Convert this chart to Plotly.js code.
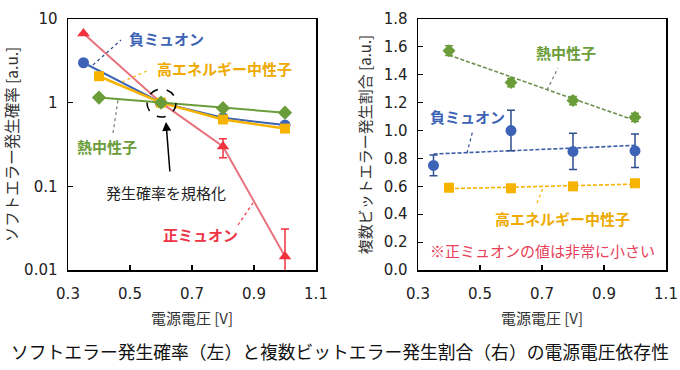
<!DOCTYPE html>
<html>
<head>
<meta charset="utf-8">
<script src="https://cdn.plot.ly/plotly-3.0.1.min.js"></script>
<style>html,body{margin:0;padding:0;background:#fff;}#chart{width:680px;height:370px;}</style>
</head>
<body>
<div id="chart"></div>
<script>
// ---- data ----
const voltsMuon = [0.35, 0.6, 0.8, 1.0];
const voltsNeutron = [0.4, 0.6, 0.8, 1.0];
const xTicks = [0.3, 0.5, 0.7, 0.9, 1.1];
const yTicksLog = [0.01, 0.1, 1, 10];
const yTickTextLog = ['0.01', '0.1', '1', '10'];
// left: soft error rate (normalised at 0.6 V)
const serNegMuon = [3.0, 1.0, 0.66, 0.54];
const serPosMuon = [6.7, 1.0, 0.30, 0.0145];
const serPosMuonErrUp = [0, 0, 0.07, 0.0165];
const serPosMuonErrDown = [0, 0, 0.08, 0.0144];
const serHighNeutron = [2.07, 1.0, 0.63, 0.49];
const serThermal = [1.15, 1.0, 0.86, 0.76];
// right: multi-bit error ratio
const mbuNegMuon = [0.75, 1.0, 0.85, 0.855];
const mbuNegMuonErr = [0.075, 0.145, 0.13, 0.12];
const mbuHighNeutron = [0.59, 0.586, 0.60, 0.622];
const mbuThermal = [1.573, 1.344, 1.215, 1.095];
const mbuThermalErr = [0.035, 0.03, 0.03, 0.03];

// ---- styles ----
const cBlue = '#3d63b6', cOrange = '#f6b400', cGreen = '#6a9d3a', cRed = '#f3323f', cRedLine = '#e8737e';
const jp = '"Noto Sans CJK JP", "Noto Sans", sans-serif';
const num = '"DejaVu Sans", Verdana, sans-serif';

function fit(xs, ys) {
  const n = xs.length;
  const mx = xs.reduce((a, b) => a + b, 0) / n;
  const my = ys.reduce((a, b) => a + b, 0) / n;
  let sxy = 0, sxx = 0;
  for (let i = 0; i < n; i++) { sxy += (xs[i] - mx) * (ys[i] - my); sxx += (xs[i] - mx) ** 2; }
  const k = sxy / sxx;
  const x0 = Math.min(...xs), x1 = Math.max(...xs);
  return { x: [x0, x1], y: [my + k * (x0 - mx), my + k * (x1 - mx)] };
}

const fG = fit(voltsNeutron, mbuThermal);
const fB = fit(voltsMuon, mbuNegMuon);
const fO = fit(voltsNeutron, mbuHighNeutron);

const traces = [
  // left panel
  { x: voltsMuon, y: serPosMuon, xaxis: 'x', yaxis: 'y', mode: 'lines+markers',
    line: { color: cRedLine, width: 2 }, marker: { symbol: 'triangle-up', size: 11, color: cRed },
    error_y: { type: 'data', array: serPosMuonErrUp, arrayminus: serPosMuonErrDown, color: cRed, thickness: 1.5, width: 4 } },
  { x: voltsMuon, y: serNegMuon, xaxis: 'x', yaxis: 'y', mode: 'lines+markers',
    line: { color: cBlue, width: 2 }, marker: { symbol: 'circle', size: 11, color: cBlue } },
  { x: voltsNeutron, y: serHighNeutron, xaxis: 'x', yaxis: 'y', mode: 'lines+markers',
    line: { color: cOrange, width: 2.5 }, marker: { symbol: 'square', size: 10, color: cOrange } },
  { x: voltsNeutron, y: serThermal, xaxis: 'x', yaxis: 'y', mode: 'lines+markers',
    line: { color: cGreen, width: 2 }, marker: { symbol: 'diamond', size: 11, color: cGreen } },
  // right panel: trend lines
  { x: fG.x, y: fG.y, xaxis: 'x2', yaxis: 'y2', mode: 'lines', line: { color: '#6f8f4f', width: 1.6, dash: '4px,2px' } },
  { x: fB.x, y: fB.y, xaxis: 'x2', yaxis: 'y2', mode: 'lines', line: { color: '#3d5ea8', width: 1.6, dash: '4px,2px' } },
  { x: fO.x, y: fO.y, xaxis: 'x2', yaxis: 'y2', mode: 'lines', line: { color: cOrange, width: 1.6, dash: '4px,2px' } },
  // right panel: points
  { x: voltsNeutron, y: mbuThermal, xaxis: 'x2', yaxis: 'y2', mode: 'markers',
    marker: { symbol: 'diamond', size: 10, color: cGreen },
    error_y: { type: 'data', array: mbuThermalErr, color: cGreen, thickness: 1.5, width: 4 } },
  { x: voltsMuon, y: mbuNegMuon, xaxis: 'x2', yaxis: 'y2', mode: 'markers',
    marker: { symbol: 'circle', size: 11, color: cBlue },
    error_y: { type: 'data', array: mbuNegMuonErr, color: '#2f4f90', thickness: 1.5, width: 4 } },
  { x: voltsNeutron, y: mbuHighNeutron, xaxis: 'x2', yaxis: 'y2', mode: 'markers',
    marker: { symbol: 'square', size: 10, color: cOrange } }
];

const W = 680, H = 370;
const px = v => v / W, py = v => 1 - v / H;

const axisCommon = {
  showline: true, mirror: true, linecolor: '#000', linewidth: 1.5,
  ticks: 'inside', ticklen: 5, tickcolor: '#000', tickwidth: 1.2,
  showgrid: false, zeroline: false, automargin: false,
  tickfont: { family: num, size: 15, color: '#222' }
};

function xAxis(domain, anchor) {
  return Object.assign({}, axisCommon, {
    domain: domain, anchor: anchor, range: [0.3, 1.1], tickvals: xTicks, tickformat: '.1f',
    ticklabelstandoff: 9,
    title: { text: '電源電圧 [V]', font: { family: jp, size: 15, color: '#333' }, standoff: 12 }
  });
}

function note(x, y, text, color, size) {
  return { xref: 'paper', yref: 'paper', x: px(x), y: py(y), xanchor: 'center', yanchor: 'middle',
    text: text, showarrow: false, font: { family: jp, size: size || 15, color: color } };
}

const layout = {
  width: W, height: H, margin: { l: 0, r: 0, t: 0, b: 0 },
  paper_bgcolor: '#fff', plot_bgcolor: '#fff', showlegend: false,
  xaxis: xAxis([68 / W, 316 / W], 'y'),
  yaxis: Object.assign({}, axisCommon, {
    domain: [1 - 270 / H, 1 - 19 / H], anchor: 'x', type: 'log', range: [-2, 1],
    tickvals: yTicksLog, ticktext: yTickTextLog, ticklabelstandoff: 6,
    title: { text: 'ソフトエラー発生確率 [a.u.]', font: { family: jp, size: 15.5, color: '#333' }, standoff: 3 }
  }),
  xaxis2: xAxis([418 / W, 666 / W], 'y2'),
  yaxis2: Object.assign({}, axisCommon, {
    domain: [1 - 270 / H, 1 - 19 / H], anchor: 'x2', range: [0, 1.8], dtick: 0.2, tickformat: '.1f',
    ticklabelstandoff: 6,
    title: { text: '複数ビットエラー発生割合 [a.u.]', font: { family: jp, size: 15, color: '#333' }, standoff: 8 }
  }),
  shapes: [
    { type: 'circle', xref: 'paper', yref: 'paper', x0: px(147), x1: px(176), y0: py(117), y1: py(89),
      line: { color: '#000', width: 1.5, dash: 'dash' } },
    // leader lines
    { type: 'line', xref: 'paper', yref: 'paper', x0: px(93), y0: py(65), x1: px(121), y1: py(40), line: { color: '#2f4f90', width: 1.2, dash: 'dot' } },
    { type: 'line', xref: 'paper', yref: 'paper', x0: px(122), y0: py(82), x1: px(149), y1: py(70), line: { color: cOrange, width: 1.2, dash: 'dot' } },
    { type: 'line', xref: 'paper', yref: 'paper', x0: px(113), y0: py(133), x1: px(118), y1: py(100), line: { color: '#6f7f6f', width: 1.2, dash: 'dot' } },
    { type: 'line', xref: 'paper', yref: 'paper', x0: px(238), y0: py(225), x1: px(253), y1: py(203), line: { color: cRed, width: 1.2, dash: 'dot' } },
    { type: 'line', xref: 'paper', yref: 'paper', x0: px(547), y0: py(90), x1: px(558), y1: py(68), line: { color: '#6f7f6f', width: 1.2, dash: 'dot' } },
    { type: 'line', xref: 'paper', yref: 'paper', x0: px(467), y0: py(153), x1: px(473), y1: py(130), line: { color: '#2f4f90', width: 1.2, dash: 'dot' } },
    { type: 'line', xref: 'paper', yref: 'paper', x0: px(537), y0: py(203), x1: px(543), y1: py(188), line: { color: cOrange, width: 1.2, dash: 'dot' } }
  ],
  annotations: [
    note(166, 38, '<b>負ミュオン</b>', cBlue),
    note(224, 68, '<b>高エネルギー中性子</b>', '#eeaa00'),
    note(107, 146, '<b>熱中性子</b>', cGreen),
    note(166, 192, '発生確率を規格化', '#222'),
    note(200, 234, '<b>正ミュオン</b>', '#ee3344'),
    { xref: 'paper', yref: 'paper', x: px(166), y: py(122), axref: 'pixel', ayref: 'pixel', ax: 4, ay: 51, text: '',
      showarrow: true, arrowhead: 2, arrowsize: 1.2, arrowwidth: 1.5, arrowcolor: '#000' },
    note(566, 52, '<b>熱中性子</b>', cGreen),
    note(467, 116, '<b>負ミュオン</b>', cBlue),
    note(562, 219, '<b>高エネルギー中性子</b>', '#eeaa00'),
    note(542, 251, '※正ミュオンの値は非常に小さい', '#e8405a'),
    note(340, 351, 'ソフトエラー発生確率（左）と複数ビットエラー発生割合（右）の電源電圧依存性', '#111', 17.8)
  ]
};

Plotly.newPlot('chart', traces, layout, { staticPlot: true, displayModeBar: false });
</script>
</body>
</html>
